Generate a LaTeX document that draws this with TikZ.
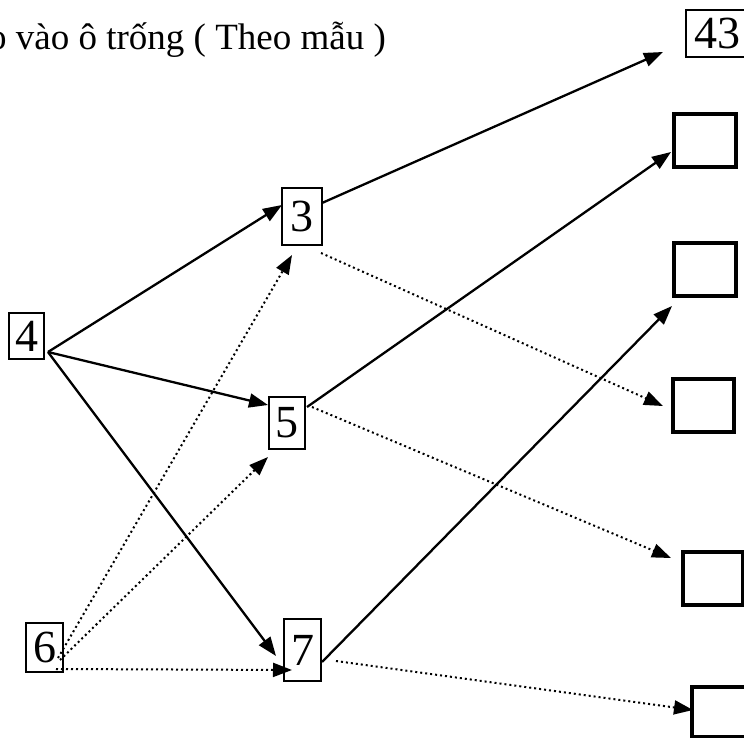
\documentclass[tikz,border=0pt]{standalone}
\usepackage{fontspec}
\setmainfont{Liberation Serif}
\usetikzlibrary{arrows.meta}
\begin{document}
\begin{tikzpicture}[x=1pt,y=-1pt,
 sbox/.style={draw, line width=1.4pt, inner sep=0pt, font=\fontsize{46}{46}\selectfont},
 abox/.style={draw, line width=3.2pt, inner sep=0pt, minimum width=61pt, minimum height=53pt},
 sol/.style={line width=2.3pt, -{Triangle[length=19pt,width=14pt]}},
 dotl/.style={line width=2pt, dash pattern=on 2pt off 3pt, -{Triangle[length=19pt,width=14pt,sep=0pt]}}]
\useasboundingbox (0,0) rectangle (744,738);
\clip (0,0) rectangle (744,738);
% title
\node[anchor=base east, inner sep=0pt, font=\fontsize{37}{40}\selectfont] (title) at (386,50) {o vào ô trống ( Theo mẫu )};
% left column
\node[sbox, minimum width=35pt, minimum height=46pt] (b4) at (26.5,336) {4};
\node[sbox, minimum width=37pt, minimum height=49pt] (b6) at (44.5,647.5) {6};
% middle column
\node[sbox, minimum width=40pt, minimum height=57pt] (b3) at (302,216.5) {3};
\node[sbox, minimum width=36pt, minimum height=52pt] (b5) at (287,423) {5};
\node[sbox, minimum width=37pt, minimum height=62pt] (b7) at (302.5,650) {7};
% right column
\node[sbox, minimum width=62pt, minimum height=47pt] (b43) at (717,33.5) {43};
\node[abox, minimum width=62pt] (r1) at (705,140.5) {};
\node[abox, minimum width=62pt] (r2) at (705,269.5) {};
\node[abox] (r3) at (703.5,405.5) {};
\node[abox, minimum width=60pt] (r4) at (713,578.5) {};
\node[abox, minimum width=60pt, minimum height=50pt] (r5) at (722,712) {};
% connector end points
\coordinate (s4) at (48,352);
\coordinate (t3a) at (282,205);
\coordinate (t5a) at (268,405);
\coordinate (t7a) at (276,656);
\coordinate (s3) at (322,203);
\coordinate (t43) at (663,52);
\coordinate (s5) at (307,407);
\coordinate (tr1) at (671,152);
\coordinate (s7) at (322,662);
\coordinate (tr2) at (672,306);
\coordinate (s3d) at (321,253);
\coordinate (tr3) at (663,406);
\coordinate (s5d) at (312,407);
\coordinate (tr4) at (671,558);
\coordinate (s7d) at (336,661);
\coordinate (tr5) at (693,710);
\coordinate (s6a) at (58,658);
\coordinate (t3b) at (292,255);
\coordinate (s6b) at (60,660);
\coordinate (t5b) at (268,457);
\coordinate (s6c) at (56,669);
\coordinate (t7b) at (292,670);
% solid connectors
\draw[sol] (s4) -- (t3a);
\draw[sol] (s4) -- (t5a);
\draw[sol] (s4) -- (t7a);
\draw[sol] (s3) -- (t43);
\draw[sol] (s5) -- (tr1);
\draw[sol] (s7) -- (tr2);
% dotted connectors
\draw[dotl] (s3d) -- (tr3);
\draw[dotl] (s5d) -- (tr4);
\draw[dotl] (s7d) -- (tr5);
\draw[dotl] (s6a) -- (t3b);
\draw[dotl] (s6b) -- (t5b);
\draw[dotl] (s6c) -- (t7b);
\end{tikzpicture}
\end{document}
